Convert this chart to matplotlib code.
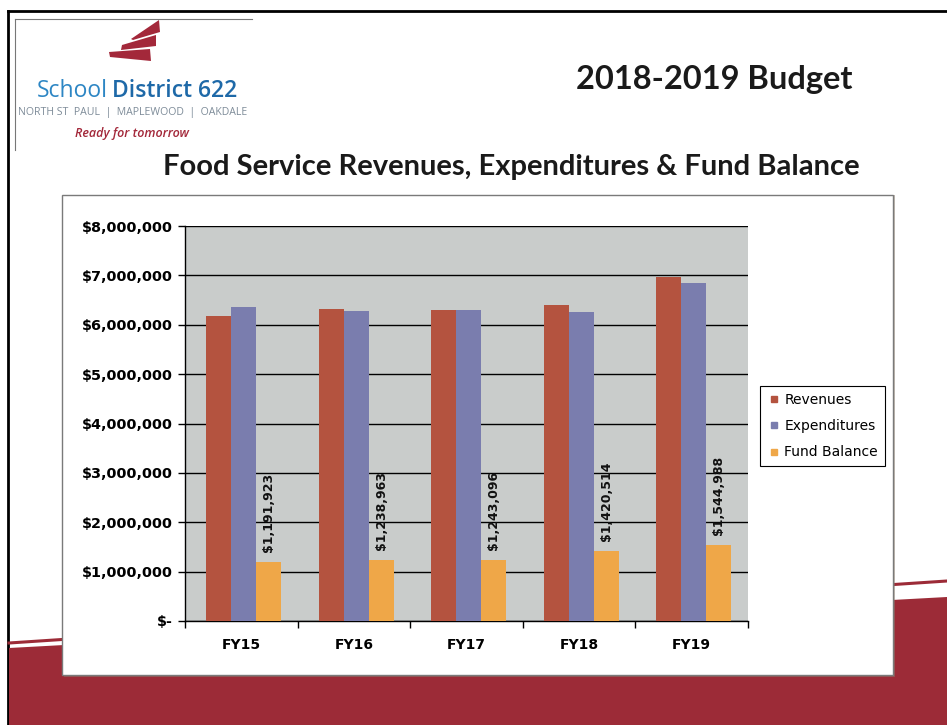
import numpy as np
import matplotlib
matplotlib.use("Agg")
import matplotlib.pyplot as plt
from matplotlib.patches import Polygon, Rectangle
from matplotlib.lines import Line2D

# Food service figures by fiscal year
years = ['FY15', 'FY16', 'FY17', 'FY18', 'FY19']
revenues = [6170000, 6310000, 6300000, 6400000, 6970000]
expenditures = [6360000, 6280000, 6300000, 6260000, 6850000]
fund_balance = [1191923, 1238963, 1243096, 1420514, 1544988]
series_names = ['Revenues', 'Expenditures', 'Fund Balance']

y_ticks = [0, 1000000, 2000000, 3000000, 4000000, 5000000, 6000000, 7000000, 8000000]
y_tick_labels = ['$-', '$1,000,000', '$2,000,000', '$3,000,000', '$4,000,000',
                 '$5,000,000', '$6,000,000', '$7,000,000', '$8,000,000']

colors = ['#B4533F', '#7A7DAE', '#EFA748']
slide_red = '#9C2B37'

W, H = 947, 725


def fx(x):
    return x / W


def fy(y):
    return 1 - y / H


fig = plt.figure(figsize=(W / 100, H / 100), dpi=100)
fig.patch.set_facecolor('white')

# slide frame
fig.add_artist(Line2D([fx(8), fx(8)], [fy(11), fy(725)], color='black', lw=2.0,
                      transform=fig.transFigure, zorder=-20))
fig.add_artist(Line2D([fx(8), fx(947)], [fy(11), fy(11)], color='black', lw=2.0,
                      transform=fig.transFigure, zorder=-20))
fig.add_artist(Line2D([fx(15), fx(252)], [fy(19), fy(19)], color='#777777', lw=0.8,
                      transform=fig.transFigure, zorder=-20))
fig.add_artist(Line2D([fx(15), fx(15)], [fy(19), fy(150)], color='#777777', lw=0.8,
                      transform=fig.transFigure, zorder=-20))

# red band at the bottom of the slide
band = Polygon([(fx(9), fy(648)), (fx(947), fy(597)), (fx(947), fy(725)), (fx(9), fy(725))],
               closed=True, facecolor=slide_red, edgecolor='none',
               transform=fig.transFigure, zorder=-15)
fig.add_artist(band)
fig.add_artist(Line2D([fx(9), fx(947)], [fy(643), fy(581)], color=slide_red, lw=2.2,
                      transform=fig.transFigure, zorder=-15))

# logo: three slanted stripes
logo_red = '#A3283A'
for pts in [[(131, 39), (159, 20), (160, 32), (133, 40)],
            [(122, 45), (156, 35), (156, 46), (121, 50)],
            [(109, 52), (150, 49), (151, 61), (110, 57)]]:
    fig.add_artist(Polygon([(fx(x), fy(y)) for x, y in pts], closed=True,
                           facecolor=logo_red, edgecolor='none',
                           transform=fig.transFigure))

renderer = fig.canvas.get_renderer()
t_school = fig.text(fx(37), fy(97), 'School', fontsize=16.5, family='Open Sans',
                    color='#2D86C4', ha='left', va='baseline')
bb = t_school.get_window_extent(renderer)
fig.text((bb.x1 + 4) / W, fy(97), 'District 622', fontsize=16.5, family='Open Sans',
         weight='semibold', color='#1E69A8', ha='left', va='baseline')
fig.text(fx(133), fy(112), 'NORTH ST  PAUL  |  MAPLEWOOD  |  OAKDALE', fontsize=7.6,
         family='Open Sans', color='#7E8C99', ha='center', va='center')
fig.text(fx(132), fy(134), 'Ready for tomorrow', fontsize=9, family='Open Sans',
         style='italic', weight='semibold', color=logo_red, ha='center', va='center')

# slide titles
fig.text(fx(714), fy(80), '2018-2019 Budget', fontsize=23.5, family='Lato',
         weight='bold', color='#1a1a1a', ha='center', va='center')
fig.text(fx(511), fy(167), 'Food Service Revenues, Expenditures & Fund Balance',
         fontsize=21, family='Lato', weight='bold', color='#1a1a1a',
         ha='center', va='center')

# white chart box with a soft shadow
fig.add_artist(Rectangle((fx(64), fy(677)), (893 - 62) / W, (677 - 195) / H,
                         facecolor='#8a7a6a', edgecolor='none', alpha=0.5,
                         transform=fig.transFigure, zorder=-6))
fig.add_artist(Rectangle((fx(62), fy(675)), (893 - 62) / W, (675 - 195) / H,
                         facecolor='white', edgecolor='#7a7a7a', lw=1.0,
                         transform=fig.transFigure, zorder=-5))

ax = fig.add_axes([fx(185), fy(621), (748 - 185) / W, (621 - 226) / H])
ax.set_facecolor('#C9CCCB')

x = np.arange(len(years))
bw = 0.222
shift = 0.02
for i, (vals, name) in enumerate(zip([revenues, expenditures, fund_balance], series_names)):
    ax.bar(x + shift + (i - 1) * bw, vals, width=bw, color=colors[i], label=name,
           zorder=3, linewidth=0)

for xi, v in zip(x, fund_balance):
    ax.annotate(f'${v:,.0f}', (xi + shift + bw, v), xytext=(0, 7),
                textcoords='offset points', rotation=90, ha='center', va='bottom',
                fontsize=9, weight='bold', family='DejaVu Sans', color='#111111',
                zorder=4)

ax.set_xlim(-0.5, len(years) - 0.5)
ax.set_ylim(0, 8000000)
ax.set_yticks(y_ticks)
ax.set_yticklabels(y_tick_labels, fontsize=10.4, weight='bold', family='DejaVu Sans')
ax.yaxis.grid(True, color='black', lw=1.0, zorder=1)
ax.set_axisbelow(True)

ax.set_xticks(x)
ax.set_xticklabels(years, fontsize=10, weight='bold', family='DejaVu Sans')
ax.set_xticks(np.arange(-0.5, len(years)), minor=True)
ax.tick_params(axis='x', which='major', length=0, pad=12)
ax.tick_params(axis='x', which='minor', length=5, direction='out', width=1)
ax.tick_params(axis='y', length=5, direction='out', width=1, pad=4)

for side in ['top', 'right']:
    ax.spines[side].set_visible(False)
ax.spines['left'].set_linewidth(1.0)
ax.spines['bottom'].set_linewidth(1.0)

# small square legend keys
handles = [Line2D([], [], marker='s', ls='', color=c, markersize=5) for c in colors]
leg = fig.legend(handles, series_names, loc='upper left',
                 bbox_to_anchor=(fx(760), fy(386)),
                 frameon=True, fancybox=False, edgecolor='black', framealpha=1,
                 prop={'family': 'DejaVu Sans', 'size': 10},
                 handlelength=1.0, handletextpad=0.25,
                 labelspacing=0.88, borderpad=0.5, borderaxespad=0)
leg.get_frame().set_linewidth(0.8)

fig.savefig('out.png', dpi=100)
